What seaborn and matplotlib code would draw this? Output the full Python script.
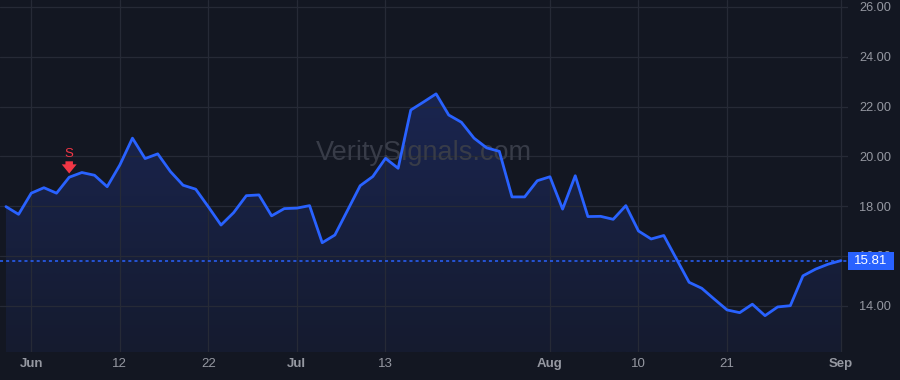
import numpy as np
import pandas as pd
import matplotlib
matplotlib.use("Agg")
import matplotlib.pyplot as plt
import matplotlib.transforms as mtransforms
from matplotlib.patches import Rectangle, Polygon
import seaborn as sns

# ---------------- data ----------------
holidays = ["2023-06-19", "2023-07-04"]
dates = [d for d in pd.bdate_range("2023-05-30", "2023-09-01") if d.strftime("%Y-%m-%d") not in holidays]
prices = [17.98, 17.67, 18.52, 18.74, 18.52, 19.16, 19.35, 19.24, 18.78, 19.65,
          20.73, 19.91, 20.10, 19.39, 18.84, 18.68, 17.97, 17.24, 17.74, 18.42,
          18.45, 17.61, 17.90, 17.92, 18.02, 16.53, 16.84, 17.83, 18.82, 19.19,
          19.92, 19.52, 21.86, 22.18, 22.51, 21.66, 21.37, 20.73, 20.34, 20.20,
          18.37, 18.37, 19.02, 19.18, 17.88, 19.22, 17.58, 17.59, 17.47, 18.02,
          17.00, 16.68, 16.82, 15.88, 14.94, 14.70, 14.26, 13.83, 13.72, 14.06,
          13.60, 13.95, 14.00, 15.20, 15.47, 15.67, 15.81]
tick_dates = ["2023-06-01", "2023-06-12", "2023-06-22", "2023-07-03", "2023-07-13",
              "2023-08-01", "2023-08-10", "2023-08-21", "2023-09-01"]
tick_labels = ["Jun", "12", "22", "Jul", "13", "Aug", "10", "21", "Sep"]
month_labels = ["Jun", "Jul", "Aug", "Sep"]
y_ticks = [14, 16, 18, 20, 22, 24, 26]
last_price = 15.81
signal_date = "2023-06-06"
signal_text = "S"
watermark = "VeritySignals.com"

df = pd.DataFrame({"date": dates, "price": prices})
df["idx"] = np.arange(len(df))
date_to_idx = {d.strftime("%Y-%m-%d"): i for i, d in enumerate(df["date"])}

# ---------------- style ----------------
BG = "#131722"
GRID = "#262a36"
LINE = "#2962ff"
TXT = "#9598a1"
RED = "#f23645"
sns.set_theme(style="dark", rc={"axes.facecolor": BG, "figure.facecolor": BG})
plt.rcParams["font.family"] = ["Liberation Sans", "DejaVu Sans"]

fig = plt.figure(figsize=(9, 3.8), dpi=100)
ax = fig.add_axes([0, 28 / 380, 848 / 900, 352 / 380])
ax.set_facecolor(BG)

ymin, ymax = 12.14, 26.28
xmin, xmax = -0.47, 66.56
ax.set_xlim(xmin, xmax)
ax.set_ylim(ymin, ymax)

# gradient fill under the line (brighter near the top, fading downward)
verts = [(df["idx"].iloc[0], ymin)] + list(zip(df["idx"], df["price"])) + [(df["idx"].iloc[-1], ymin)]
poly = Polygon(verts, closed=True, facecolor="none", edgecolor="none")
ax.add_patch(poly)
grad = np.linspace(0, 1, 256).reshape(-1, 1)
cmap = matplotlib.colors.LinearSegmentedColormap.from_list("g", ["#151b2f", "#1a2550"])
im = ax.imshow(grad, extent=[xmin, xmax, ymin, max(prices) + 0.1], aspect="auto",
               cmap=cmap, origin="lower", zorder=1)
im.set_clip_path(poly)

sns.lineplot(data=df, x="idx", y="price", color=LINE, linewidth=2.0, ax=ax, zorder=3)

# grid
ax.grid(False)
tick_pos = [date_to_idx[d] for d in tick_dates]
for xp in tick_pos:
    ax.axvline(xp, color=GRID, linewidth=0.9, zorder=1.5)
for yv in y_ticks:
    ax.axhline(yv, color=GRID, linewidth=0.9, zorder=1.5)

# last-price dotted line
ax.axhline(last_price, color=LINE, linewidth=1.1, linestyle=(0, (2, 2)), zorder=2.8)

# axes ticks
ax.set_xticks(tick_pos)
ax.set_xticklabels(tick_labels)
for lab in ax.get_xticklabels():
    lab.set_color(TXT)
    lab.set_fontsize(9.5)
    if lab.get_text() in month_labels:
        lab.set_fontweight("bold")
ax.tick_params(axis="x", length=0, pad=4)
ax.yaxis.tick_right()
ax.set_yticks(y_ticks)
ax.set_yticklabels([f"{v:.2f}" for v in y_ticks])
ax.tick_params(axis="y", length=0, pad=8, labelsize=9.2, labelcolor=TXT)
ax.set_xlabel("")
ax.set_ylabel("")
for sp in ax.spines.values():
    sp.set_visible(False)

# price box
trans = mtransforms.blended_transform_factory(ax.transAxes, ax.transData)
box_h = 0.72
ax.add_patch(Rectangle((1.0, last_price - box_h / 2), 46 / 848, box_h, transform=trans,
                       facecolor=LINE, edgecolor="none", clip_on=False, zorder=5))
ax.text(1.0 + 23 / 848, last_price - 0.02, f"{last_price:.2f}", transform=trans, ha="center",
        va="center", color="white", fontsize=9.5, zorder=6, clip_on=False)

# signal marker
si = date_to_idx[signal_date]
sp_ = df["price"].iloc[si]
ax.annotate("", xy=(si, sp_ + 0.15), xytext=(si, sp_ + 0.64),
            arrowprops=dict(arrowstyle="simple,head_width=0.9,head_length=0.55,tail_width=0.45",
                            color=RED, lw=0, shrinkA=0, shrinkB=0), zorder=6)
ax.text(si, sp_ + 0.92, signal_text, color=RED, fontsize=9.5, ha="center",
        va="center", zorder=6)

# watermark
ax.text(0.5, 0.565, watermark, transform=ax.transAxes, ha="center", va="center",
        fontsize=19.5, color="#383c48", zorder=2)

fig.savefig("out.png", dpi=100, facecolor=BG)
